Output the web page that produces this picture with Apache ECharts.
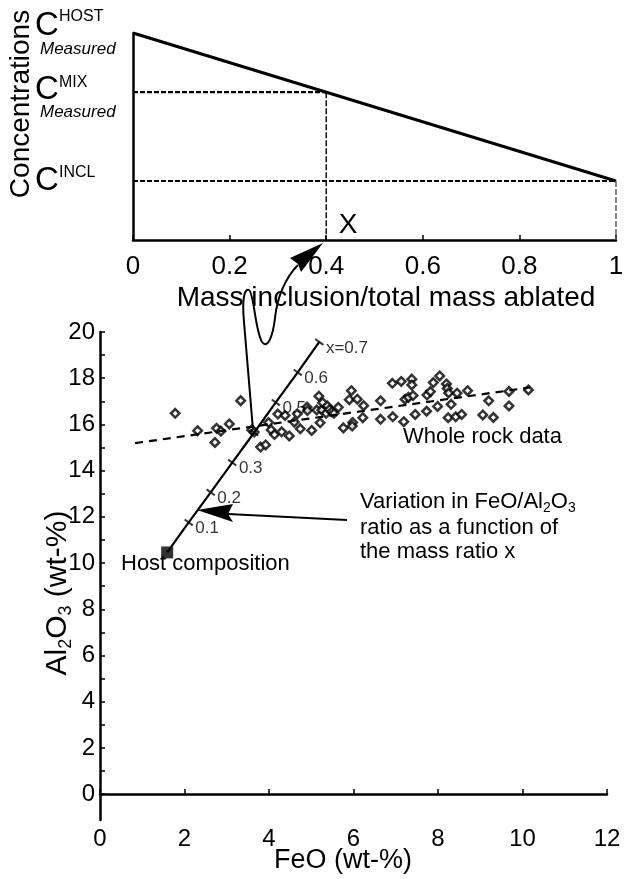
<!DOCTYPE html>
<html><head><meta charset="utf-8">
<script src="https://cdn.jsdelivr.net/npm/echarts@6/dist/echarts.min.js"></script>
<style>html,body{margin:0;padding:0;background:#fff}#c{width:631px;height:879px}</style>
</head><body><div id="c"></div>
<script>
// ---- Top schematic (mass fraction vs concentration) ----
const topTickValues = [0, 0.2, 0.4, 0.6, 0.8, 1];
const massHost = 0, massExample = 0.4, massIncl = 1;
const concHost = 1.0;
const concMix = 0.714;
const concIncl = 0.285;

// ---- Bottom diagram ----
const feoTicks = [0, 2, 4, 6, 8, 10, 12];
const alLabelTicks = [0, 2, 4, 6, 8, 10, 12, 14, 16, 18, 20];
const alAllTicks = [0,1,2,3,4,5,6,7,8,9,10,11,12,13,14,15,16,17,18,19,20];

const rockFeO = [1.78,2.31,2.72,2.76,2.86,3.06,3.33,3.59,3.65,3.80,3.92,3.99,4.05,4.13,4.30,4.48,4.21,4.38,4.60,4.67,4.74,4.90,4.91,5.01,5.18,5.13,5.25,5.21,5.27,5.38,5.35,5.43,5.49,5.54,5.64,5.76,5.95,5.90,6.09,5.98,5.97,6.24,6.22,6.64,6.64,6.92,6.93,7.13,7.19,7.38,7.38,7.22,7.30,7.41,7.46,7.73,7.74,7.82,7.89,8.04,7.99,8.20,8.22,8.25,8.45,8.31,8.24,8.42,8.56,8.70,9.20,9.06,9.31,9.68,9.68,10.14];
const rockAl = [16.48,15.73,15.22,15.83,15.71,16.02,17.03,15.76,15.67,15.02,15.11,16.08,15.76,15.56,15.68,15.50,16.45,16.39,16.10,16.46,15.81,16.75,16.60,15.74,17.22,16.62,16.62,16.07,16.94,16.80,16.48,16.65,16.55,16.48,16.74,15.85,17.46,17.07,17.09,16.08,15.93,16.81,16.29,17.02,16.22,17.78,16.33,17.86,16.12,17.96,17.71,17.09,17.17,17.25,16.43,16.57,17.27,17.42,17.81,18.10,16.78,17.75,17.56,17.36,17.35,16.87,16.29,16.33,16.43,17.46,17.02,16.41,16.30,17.43,16.80,17.49];

const trendFeO = [0.83, 10.18];
const trendAl = [15.19, 17.60];

const mixRatio = [0, 0.1, 0.2, 0.3, 0.4, 0.5, 0.6, 0.7];
const mixFeO = [1.59, 2.10, 2.62, 3.13, 3.65, 4.16, 4.68, 5.19];
const mixAl = [10.46, 11.76, 13.06, 14.35, 15.65, 16.95, 18.25, 19.57];
const mixTickLabels = ['', '0.1', '0.2', '0.3', '', '0.5', '0.6', 'x=0.7'];

const hostFeO = 1.59, hostAl = 10.46;

const FONT = "'Liberation Sans', Arial, sans-serif";
const chart = echarts.init(document.getElementById('c'), null, {renderer: 'canvas'});

const zip = (a, b) => a.map((v, i) => [v, b[i]]);

const tickData = [];
for (let i = 1; i < mixRatio.length; i++) {
  tickData.push({value: [mixFeO[i], mixAl[i]], name: mixTickLabels[i]});
}

function txt(x, y, text, size, opts) {
  return Object.assign({
    type: 'text', x: x, y: y, silent: true,
    style: Object.assign({text: text, font: size + 'px ' + FONT, fill: '#000',
      textAlign: 'left', textVerticalAlign: 'middle'}, (opts && opts.style) || {})
  }, opts && opts.el || {});
}
function bez(p0, c1, c2, p1) {
  return {type: 'bezierCurve', silent: true,
    shape: {x1: p0[0], y1: p0[1], x2: p1[0], y2: p1[1], cpx1: c1[0], cpy1: c1[1], cpx2: c2[0], cpy2: c2[1]},
    style: {fill: null, stroke: '#000', lineWidth: 2}};
}

const option = {
  animation: false,
  backgroundColor: '#fff',
  textStyle: {fontFamily: FONT, color: '#000'},
  grid: [
    {left: 133, top: 33, width: 483, height: 207},
    {left: 100, top: 332, width: 507, height: 488}
  ],
  xAxis: [
    {gridIndex: 0, type: 'value', min: 0, max: 1, interval: 0.2,
      axisLine: {lineStyle: {color: '#000', width: 2.5}},
      axisTick: {inside: true, length: 5, lineStyle: {color: '#000', width: 1.5}},
      axisLabel: {fontSize: 26, color: '#000', margin: 14, fontFamily: FONT,
        formatter: v => String(+v.toFixed(1))},
      splitLine: {show: false}},
    {gridIndex: 1, type: 'value', min: 0, max: 12, interval: 2,
      axisLine: {lineStyle: {color: '#000', width: 2.5}},
      axisTick: {inside: true, length: 5, lineStyle: {color: '#000', width: 1.5}},
      axisLabel: {fontSize: 24, color: '#000', margin: 7, fontFamily: FONT},
      splitLine: {show: false}}
  ],
  yAxis: [
    {gridIndex: 0, type: 'value', min: 0, max: 1,
      axisLine: {show: true, lineStyle: {color: '#000', width: 2.5}},
      axisTick: {show: false}, axisLabel: {show: false}, splitLine: {show: false}},
    {gridIndex: 1, type: 'value', min: -1.12, max: 20,
      axisLine: {show: true, lineStyle: {color: '#000', width: 2.5}},
      axisTick: {show: true, inside: true, length: 5, customValues: alAllTicks,
        lineStyle: {color: '#000', width: 1.5}},
      axisLabel: {show: true, fontSize: 24, color: '#000', margin: 5, fontFamily: FONT,
        customValues: alLabelTicks},
      splitLine: {show: false}}
  ],
  series: [
    {type: 'line', xAxisIndex: 0, yAxisIndex: 0, showSymbol: false, silent: true,
      data: [[massHost, concHost], [massIncl, concIncl]],
      lineStyle: {color: '#000', width: 3}},
    {type: 'line', xAxisIndex: 0, yAxisIndex: 0, showSymbol: false, silent: true,
      data: [[massHost, concMix], [massExample, concMix]],
      lineStyle: {color: '#000', width: 2.2, type: [5, 2]}},
    {type: 'line', xAxisIndex: 0, yAxisIndex: 0, showSymbol: false, silent: true,
      data: [[massExample, concMix], [massExample, 0]],
      lineStyle: {color: '#000', width: 1.4, type: [6, 2]}},
    {type: 'line', xAxisIndex: 0, yAxisIndex: 0, showSymbol: false, silent: true,
      data: [[massHost, concIncl], [massIncl, concIncl]],
      lineStyle: {color: '#000', width: 2.2, type: [5, 2]}},
    {type: 'line', xAxisIndex: 0, yAxisIndex: 0, showSymbol: false, silent: true,
      data: [[massIncl, concIncl], [massIncl, 0]],
      lineStyle: {color: '#555', width: 1.4, type: [6, 2]}},
    {type: 'line', xAxisIndex: 1, yAxisIndex: 1, showSymbol: false, silent: true,
      data: zip(trendFeO, trendAl),
      lineStyle: {color: '#000', width: 2.2, type: [8, 6]}},
    {type: 'line', xAxisIndex: 1, yAxisIndex: 1, showSymbol: false, silent: true,
      data: zip(mixFeO, mixAl),
      lineStyle: {color: '#000', width: 2.2}},
    {type: 'scatter', xAxisIndex: 1, yAxisIndex: 1, silent: true,
      data: zip(rockFeO, rockAl), symbol: 'diamond', symbolSize: 8.5,
      itemStyle: {color: '#fff', borderColor: '#000', borderWidth: 2.5}},
    {type: 'scatter', xAxisIndex: 1, yAxisIndex: 1, silent: true,
      data: tickData, symbol: 'rect', symbolSize: [10, 2], symbolRotate: -36,
      itemStyle: {color: '#000'},
      label: {show: true, position: 'right', distance: 2, offset: [0, 6],
        formatter: p => p.name, fontSize: 17, color: '#000', fontFamily: FONT}},
    {type: 'scatter', xAxisIndex: 1, yAxisIndex: 1, silent: true,
      data: [[hostFeO, hostAl]], symbol: 'rect', symbolSize: 12,
      itemStyle: {color: '#000'}}
  ],
  graphic: [
    txt(21, 104, 'Concentrations', 28, {el: {rotation: Math.PI / 2}, style: {textAlign: 'center'}}),
    txt(35, 26, 'C', 33), txt(59, 17, 'HOST', 16),
    txt(40, 49, 'Measured', 17, {style: {font: 'italic 17px ' + FONT}}),
    txt(35, 90, 'C', 33), txt(59, 83, 'MIX', 16),
    txt(40, 112, 'Measured', 17, {style: {font: 'italic 17px ' + FONT}}),
    txt(35, 181, 'C', 33), txt(59, 173, 'INCL', 16),
    txt(348, 225, 'X', 28, {style: {textAlign: 'center'}}),
    txt(386, 298, 'Mass inclusion/total mass ablated', 28, {style: {textAlign: 'center'}}),
    {type: 'line', silent: true, shape: {x1: 253, y1: 430, x2: 244, y2: 322},
      style: {stroke: '#000', lineWidth: 2}},
    bez([244, 322], [242, 300], [244, 288], [249, 290]),
    bez([249, 290], [254, 293], [255, 330], [262, 342]),
    bez([262, 342], [268, 350], [273, 335], [275, 318]),
    bez([275, 318], [277, 298], [285, 278], [298, 265]),
    {type: 'polygon', silent: true,
      shape: {points: [[323, 243], [301, 272], [298, 264], [290, 258]]},
      style: {fill: '#000'}},
    txt(121, 564, 'Host composition', 22),
    txt(403, 437, 'Whole rock data', 22),
    {type: 'text', x: 360, y: 502, silent: true,
      style: {text: 'Variation in FeO/Al{s|2}O{s|3}', font: '22px ' + FONT, fill: '#000',
        textVerticalAlign: 'middle',
        rich: {s: {fontSize: 14, fontFamily: FONT, padding: [12, 0, 0, 0]}}}},
    txt(360, 528, 'ratio as a function of', 22),
    txt(360, 552, 'the mass ratio x', 22),
    {type: 'line', silent: true, shape: {x1: 347, y1: 520, x2: 228, y2: 514},
      style: {stroke: '#000', lineWidth: 2}},
    {type: 'polygon', silent: true,
      shape: {points: [[197, 510], [233, 504], [228, 514], [233, 522]]},
      style: {fill: '#000'}},
    txt(343, 861, 'FeO (wt-%)', 27, {style: {textAlign: 'center'}}),
    {type: 'text', x: 58, y: 593, rotation: Math.PI / 2, silent: true,
      style: {text: 'Al{s|2}O{s|3} (wt-%)', font: '30px ' + FONT, fill: '#000',
        textAlign: 'center', textVerticalAlign: 'middle',
        rich: {s: {fontSize: 18, fontFamily: FONT, padding: [16, 0, 0, 0]}}}}
  ]
};
chart.setOption(option);
</script></body></html>
